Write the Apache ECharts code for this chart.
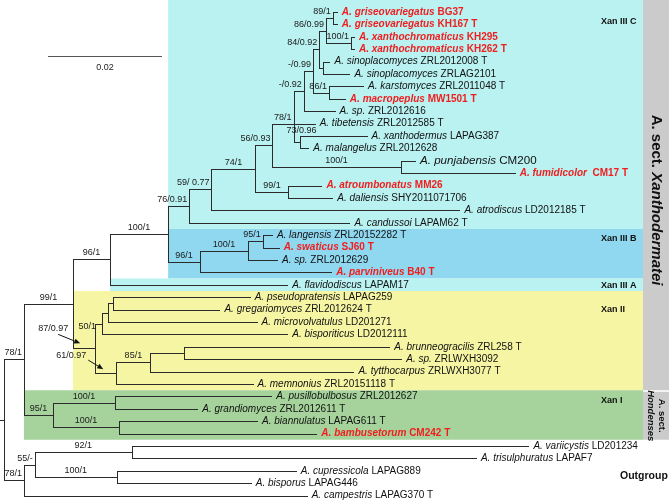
<!DOCTYPE html>
<html><head><meta charset="utf-8">
<script src="https://cdn.jsdelivr.net/npm/echarts@6.0.0/dist/echarts.min.js"></script>
<style>html,body{margin:0;padding:0;background:#fff;}#chart{width:669px;height:503px;}</style>
</head><body><div id="chart"></div>
<script>
// ================= DATA =================
const epithets = ['griseovariegatus','griseovariegatus','xanthochromaticus','xanthochromaticus','sinoplacomyces','sinoplacomyces','karstomyces','macropeplus','sp.','tibetensis','xanthodermus','malangelus','punjabensis','fumidicolor','atroumbonatus','daliensis','atrodiscus','candussoi','langensis','swaticus','sp.','parviniveus','flavidodiscus','pseudopratensis','gregariomyces','microvolvatulus','bisporiticus','brunneogracilis','sp.','tytthocarpus','memnonius','pusillobulbosus','grandiomyces','biannulatus','bambusetorum','variicystis','trisulphuratus','cupressicola','bisporus','campestris'];
const strains = ['BG37','KH167 T','KH295','KH262 T','ZRL2012008 T','ZRLAG2101','ZRL2011048 T','MW1501 T','ZRL2012616','ZRL2012585 T','LAPAG387','ZRL2012628','CM200',' CM17 T','MM26','SHY2011071706','LD2012185 T','LAPAM62 T','ZRL20152282 T','SJ60 T','ZRL2012629','B40 T','LAPAM17','LAPAG259','ZRL2012624 T','LD201271','LD2012111','ZRL258 T','ZRLWXH3092','ZRLWXH3077 T','ZRL20151118 T','ZRL2012627','ZRL2012611 T','LAPAG611 T','CM242 T','LD201234','LAPAF7','LAPAG889','LAPAG446','LAPAG370 T'];
const newTaxa = [0,1,2,3,7,13,14,19,21,34];
// tree (Newick, leaves t<i> = index into epithets/strains, internal labels = bootstrap/posterior)
const nwN84 = "(((t0:0.0007,t1:0.0007)89/1:0.0012,(t2:0.0005,t3:0.0005)100/1:0.0044)86/0.99:0.0012,(t4:0.0011,t5:0.0046):0.0007)84/0.92:0.0011";
const nwN78 = `(((${nwN84},(t6:0.0060,t7:0.0028)86/1:0.0028)-/0.99:0.0016,t8:0.0054)-/0.92:0.0018,t9:0.0037,(t10:0.0116,t11:0.0014)73/0.96:0.0012)78/1:0.0037`;
const nwIIIC = `((((${nwN78},(t12:0.0025,t13:0.0200)100/1:0.0225)56/0.93:0.0030,(t14:0.0058,t15:0.0077)99/1:0.0058)74/1:0.0077,t16:0.0435)59/ 0.77:0.0039,t17:0.0281)76/0.91:0.0037`;
const nwIIIB = "(((t18:0.0016,t19:0.0028)95/1:0.0026,t20:0.0051)100/1:0.0084,t21:0.0230)96/1:0.0056";
const nwXanII = "((((t23:0.0239,t24:0.0186):0.0009,t25:0.0260):0.0011,t26:0.0325)50/1:0.0012,(((t27:0.0361,t28:0.0382):0.0058,t29:0.0356)85/1:0.0060,t30:0.0239)61/0.97:0.0037)87/0.97:0.0039";
const nwXanth = `(((${nwIIIC},${nwIIIB})100/1:0.0102,t22:0.0311)96/1:0.0065,${nwXanII})99/1:0.0086`;
const nwHond = "((t31:0.0274,t32:0.0144)100/1:0.0109,(t33:0.0242,t34:0.0346)100/1:0.0116)95/1:0.0051";
const nwOut = "(((t35:0.0696,t36:0.0604)92/1:0.0170,(t37:0.0314,t38:0.0235)100/1:0.0144)55/-:0.0019,t39:0.0496)78/1:0.0035";
const newick = `((${nwXanth},${nwHond})78/1:0.0035,${nwOut}):0.0007;`;

const cladeNames = ['Xan III C','Xan III B','Xan III A','Xan II','Xan I'];
const cladeFirstLeaf = [0,18,22,23,31];
const cladeLastLeaf = [17,21,22,30,34];
const sectionFirstLeaf = [0,31];
const sectionLastLeaf = [30,34];
const outgroupName = 'Outgroup';
const scaleBarLength = 0.02;
const scaleBarText = '0.02';

// ================= STYLE / LAYOUT =================
const W = 669, H = 503;
const PX_PER_UNIT = 5700;            // 0.02 -> 114 px
const ROW0 = 12, ROW = 12.4;
const FONT = '"Liberation Sans", Arial, Helvetica, sans-serif';
const LINE = '#2b2b2b';
const RED = '#f01e1e';
const cladeColors = ['#baf1f1','#8fd8f0','#baf1f1','#f6f5a4','#a6d39c'];
const GRAY = '#cbcbcb';
const BAND_RIGHT = 643;
const cladeLabelRows = [0.8, 18.3, 22.05, 24.0, 31.3];
const outgroupRow = 37.4;
const supportTweaks = {
  '23-26': {dx:-6, dy:3},                  // 50/1
  '10-11': {center:true, dx:1, dy:-12},    // 73/0.96
  '23-30': {arrow:{t:[-42,-20], a:[-37,-14], b:[-15,-5]}}, // 87/0.97
  '27-30': {arrow:{t:[-45,-18], a:[-28,-13], b:[-13,-4]}}  // 61/0.97
};

// ================= TREE =================
function parseNewick(s){
  let i = 0;
  function node(){
    const n = {children:[], label:'', len:0};
    if (s[i] === '('){
      i++;
      n.children.push(node());
      while (s[i] === ','){ i++; n.children.push(node()); }
      i++;
    }
    let lab = '';
    while (i < s.length && ':,();'.indexOf(s[i]) < 0){ lab += s[i]; i++; }
    n.label = lab;
    if (s[i] === ':'){
      i++; let num = '';
      while (i < s.length && /[0-9.eE\-]/.test(s[i])){ num += s[i]; i++; }
      n.len = parseFloat(num);
    }
    return n;
  }
  return node();
}
const root = parseNewick(newick);
const nodes = [];
function layout(n, px){
  n.px = px; n.x = px + n.len;
  if (!n.children.length){
    n.leaf = parseInt(n.label.slice(1), 10);
    n.y = n.leaf; n.lo = n.leaf; n.hi = n.leaf;
  } else {
    n.children.forEach(c => layout(c, n.x));
    const k = n.children.length;
    n.y = (k > 2 && k % 2 === 1) ? n.children[(k-1)/2].y : (n.children[0].y + n.children[k-1].y) / 2;
    n.y0 = n.children[0].y; n.y1 = n.children[k-1].y;
    n.lo = Math.min(...n.children.map(c=>c.lo)); n.hi = Math.max(...n.children.map(c=>c.hi));
  }
  nodes.push(n);
}
layout(root, 0);
const leaves = nodes.filter(n => !n.children.length).sort((a,b)=>a.leaf-b.leaf);
const internals = nodes.filter(n => n.children.length && n.label);
function mrca(a, b){
  let best = null;
  nodes.forEach(n => { if (n.lo <= a && n.hi >= b && (!best || (n.hi-n.lo) < (best.hi-best.lo))) best = n; });
  return best;
}
const cladeStartX = cladeNames.map((c,i) => mrca(cladeFirstLeaf[i], cladeLastLeaf[i]).px);

const yMin = -ROW0/ROW, yMax = (H-ROW0)/ROW;

const ctx = document.createElement('canvas').getContext('2d');
ctx.font = '9px ' + FONT;
const measure = t => ctx.measureText(t).width;
const r5 = v => Math.round(v) + 0.5;

// ================= RENDERERS =================
function renderBands(params, api){
  const i = params.dataIndex;
  const x0 = api.coord([cladeStartX[i], 0])[0];
  const top = i === 0 ? 0 : api.coord([0, cladeFirstLeaf[i]-0.5])[1];
  const bot = api.coord([0, cladeLastLeaf[i]+0.5])[1];
  return {type:'rect', shape:{x:x0, y:top, width:BAND_RIGHT-x0, height:bot-top}, style:{fill:cladeColors[i]}};
}
function renderSections(params, api){
  const i = params.dataIndex;
  const top = i === 0 ? 0 : api.coord([0, sectionFirstLeaf[i]-0.5])[1] + 1.5;
  const bot = api.coord([0, sectionLastLeaf[i]+0.5])[1];
  const cx = (BAND_RIGHT + W) / 2, cy = (top + bot) / 2;
  const text = i === 0
    ? {type:'text', x:cx, y:cy+5, rotation:-Math.PI/2, style:{text:'{b|A. sect. }{bi|Xanthodermatei}', align:'center', verticalAlign:'middle',
        rich:{b:{fontFamily:FONT, fontSize:15, fontWeight:'bold', fill:'#111'}, bi:{fontFamily:FONT, fontSize:15, fontWeight:'bold', fontStyle:'italic', fill:'#111'}}}}
    : {type:'text', x:cx, y:cy, rotation:-Math.PI/2, style:{text:'{b|A. sect.}\n{bi|Hondenses}', align:'center', verticalAlign:'middle', lineHeight:11,
        rich:{b:{fontFamily:FONT, fontSize:9.5, fontWeight:'bold', fill:'#111', lineHeight:11}, bi:{fontFamily:FONT, fontSize:9.5, fontWeight:'bold', fontStyle:'italic', fill:'#111', lineHeight:11}}}};
  return {type:'group', children:[
    {type:'rect', shape:{x:BAND_RIGHT, y:top, width:W-BAND_RIGHT, height:bot-top}, style:{fill:GRAY}},
    text
  ]};
}
function renderBranches(params, api){
  const n = nodes[params.dataIndex];
  const a = api.coord([n.px, n.y]), b = api.coord([n.x, n.y]);
  const ch = [{type:'line', shape:{x1:Math.round(a[0]), y1:r5(a[1]), x2:Math.round(b[0])+1, y2:r5(a[1])}, style:{stroke:LINE, lineWidth:1}}];
  if (n.children.length){
    const c = api.coord([n.x, n.y0]), d = api.coord([n.x, n.y1]);
    ch.push({type:'line', shape:{x1:r5(c[0]), y1:Math.round(c[1]), x2:r5(c[0]), y2:Math.round(d[1])+1}, style:{stroke:LINE, lineWidth:1}});
  }
  return {type:'group', children:ch};
}
const richLeaf = {
  ni:{fontFamily:FONT, fontSize:10, fontStyle:'italic', fill:'#111'},
  ns:{fontFamily:FONT, fontSize:10, fill:'#111'},
  ri:{fontFamily:FONT, fontSize:10, fontStyle:'italic', fontWeight:'bold', fill:RED},
  rs:{fontFamily:FONT, fontSize:10, fontWeight:'bold', fill:RED},
  pi:{fontFamily:FONT, fontSize:11.6, fontStyle:'italic', fill:'#111'},
  ps:{fontFamily:FONT, fontSize:11.6, fill:'#111'}
};
function renderLeaves(params, api){
  const n = leaves[params.dataIndex];
  const p = api.coord([n.x, n.y]);
  const k = newTaxa.indexOf(n.leaf) >= 0 ? 'r' : (n.leaf === 12 ? 'p' : 'n');
  return {type:'text', x:p[0]+5, y:p[1], style:{text:`{${k}i|A. ${epithets[n.leaf]} }{${k}s|${strains[n.leaf]}}`, align:'left', verticalAlign:'middle', rich:richLeaf}};
}
function renderSupport(params, api){
  const n = internals[params.dataIndex];
  const p = api.coord([n.x, n.y]), q = api.coord([n.px, n.y]);
  const t = n.label, w = measure(t);
  const tw = supportTweaks[n.lo + '-' + n.hi] || {};
  const st = {fontFamily:FONT, fontSize:9, fill:'#1a1a1a', text:t, verticalAlign:'bottom'};
  if (tw.arrow){
    const A = tw.arrow;
    const ax = p[0]+A.a[0], ay = p[1]+A.a[1], bx = p[0]+A.b[0], by = p[1]+A.b[1];
    const ang = Math.atan2(by-ay, bx-ax), L = 6, Wd = 2.6;
    const hx = bx - L*Math.cos(ang), hy = by - L*Math.sin(ang);
    return {type:'group', children:[
      {type:'text', x:p[0]+A.t[0], y:p[1]+A.t[1], style:Object.assign({}, st, {align:'center', verticalAlign:'middle'})},
      {type:'line', shape:{x1:ax, y1:ay, x2:hx, y2:hy}, style:{stroke:'#111', lineWidth:1}},
      {type:'polygon', shape:{points:[[bx,by],[hx+Wd*Math.sin(ang), hy-Wd*Math.cos(ang)],[hx-Wd*Math.sin(ang), hy+Wd*Math.cos(ang)]]}, style:{fill:'#111'}}
    ]};
  }
  if (tw.dx !== undefined && !tw.center){
    return {type:'text', x:p[0]+tw.dx, y:p[1]+tw.dy, style:Object.assign({}, st, {align:'right', verticalAlign:'middle'})};
  }
  if (tw.center){
    return {type:'text', x:p[0]+tw.dx, y:p[1]+tw.dy, style:Object.assign({}, st, {align:'center', verticalAlign:'middle'})};
  }
  const mid = (p[0] + q[0]) / 2;
  const lim = p[0] - 2;
  if (mid + w/2 > lim) return {type:'text', x:lim, y:p[1]-2, style:Object.assign({}, st, {align:'right'})};
  return {type:'text', x:mid, y:p[1]-2, style:Object.assign({}, st, {align:'center'})};
}
function renderCladeLabels(params, api){
  const i = params.dataIndex;
  if (i < cladeNames.length){
    const y = api.coord([0, cladeLabelRows[i]])[1];
    return {type:'text', x:601, y:y, style:{text:cladeNames[i], fontFamily:FONT, fontSize:9, fontWeight:'bold', fill:'#111', align:'left', verticalAlign:'middle'}};
  }
  const y = api.coord([0, outgroupRow])[1];
  return {type:'text', x:620, y:y, style:{text:outgroupName, fontFamily:FONT, fontSize:10.5, fontWeight:'bold', fill:'#111', align:'left', verticalAlign:'middle'}};
}
function renderScale(params, api){
  const w = api.size([scaleBarLength, 0])[0];
  const x0 = 48, y = 56;
  return {type:'group', children:[
    {type:'line', shape:{x1:x0, y1:y+0.5, x2:x0+w, y2:y+0.5}, style:{stroke:'#555', lineWidth:1.2}},
    {type:'text', x:x0+w/2, y:y+12, style:{text:scaleBarText, fontFamily:FONT, fontSize:9, fill:'#222', align:'center', verticalAlign:'middle'}}
  ]};
}

const chart = echarts.init(document.getElementById('chart'), null, {renderer:'canvas'});
chart.setOption({
  animation:false,
  grid:{left:0, right:0, top:0, bottom:0},
  xAxis:{type:'value', min:0, max:W/PX_PER_UNIT, show:false},
  yAxis:{type:'value', inverse:true, min:yMin, max:yMax, show:false},
  series:[
    {type:'custom', z:1, clip:false, silent:true, renderItem:renderBands, data:cladeNames.map((c,i)=>[cladeStartX[i], cladeFirstLeaf[i]])},
    {type:'custom', z:1, clip:false, silent:true, renderItem:renderSections, data:sectionFirstLeaf.map((f,i)=>[0, f])},
    {type:'custom', z:2, clip:false, silent:true, renderItem:renderBranches, data:nodes.map(n=>[n.x, n.y])},
    {type:'custom', z:3, clip:false, silent:true, renderItem:renderLeaves, data:leaves.map(n=>[n.x, n.y])},
    {type:'custom', z:3, clip:false, silent:true, renderItem:renderSupport, data:internals.map(n=>[n.x, n.y])},
    {type:'custom', z:3, clip:false, silent:true, renderItem:renderCladeLabels, data:cladeNames.concat([outgroupName]).map((c,i)=>[0, i])},
    {type:'custom', z:3, clip:false, silent:true, renderItem:renderScale, data:[[scaleBarLength, 0]]}
  ]
});
</script>
</body></html>
